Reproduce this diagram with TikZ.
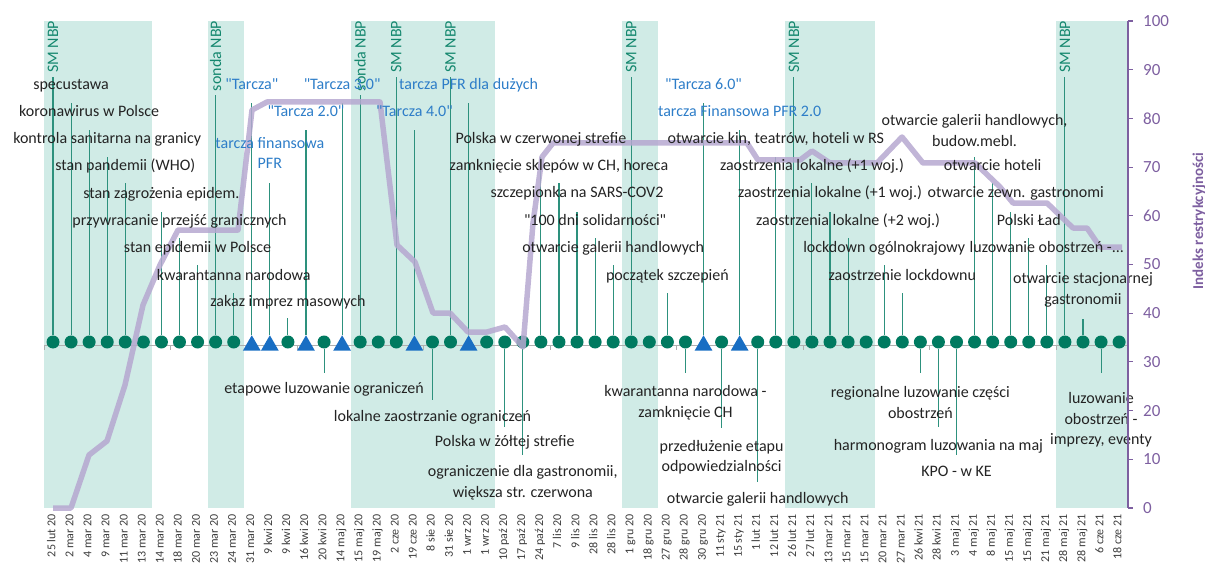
\documentclass[tikz,border=0pt]{standalone}
\usepackage{fontspec}
\setmainfont{Carlito}
\usetikzlibrary{shapes.geometric}
\definecolor{band}{RGB}{208,235,230}
\definecolor{tealc}{RGB}{20,135,110}
\definecolor{stemc}{RGB}{45,145,125}
\definecolor{markc}{RGB}{0,122,96}
\definecolor{tribl}{RGB}{25,110,195}
\definecolor{bluet}{RGB}{45,125,200}
\definecolor{idx}{RGB}{182,168,208}
\definecolor{axp}{RGB}{125,95,160}
\definecolor{txt}{RGB}{35,35,35}
\definecolor{datec}{RGB}{60,60,60}
\definecolor{gax}{RGB}{175,175,175}
\newcommand\qq{\XeTeXglyph\XeTeXcharglyph"22\relax}
\pgfdeclarelayer{bg}
\pgfdeclarelayer{mid}
\pgfdeclarelayer{mark}
\pgfdeclarelayer{idxl}
\pgfsetlayers{bg,mid,mark,idxl,main}
\tikzset{
  mlbl/.style={text=txt, inner sep=0pt, align=center, font=\fontsize{16}{20.5}\selectfont},
  lbl/.style={mlbl, text height=11pt, text depth=3.5pt},
  blbl/.style={lbl, text=bluet},
  bmlbl/.style={mlbl, text=bluet},
  rlbl/.style={rotate=90, anchor=east, text=tealc, inner sep=0pt, outer xsep=4pt, font=\fontsize{16}{19}\selectfont},
  stemln/.style={draw=stemc, line width=1.1pt},
  mdot/.style={circle, fill=markc, minimum size=13pt, inner sep=0pt},
  mtri/.style={regular polygon, regular polygon sides=3, fill=tribl, minimum size=20.5pt, inner sep=0pt},
  datel/.style={rotate=90, anchor=east, text=datec, inner sep=0pt, text height=9pt, text depth=2.5pt, font=\fontsize{12}{14}\selectfont},
  idxline/.style={draw=idx, line width=5.5pt, line join=round, opacity=0.85},
  axnum/.style={anchor=west, text=axp, inner sep=0pt, font=\fontsize{17}{20}\selectfont}
}
\newcommand\evt[5][lbl]{%
  \node[#1] (l#2) at (m#2 |- 0,#3) {#5};
  \coordinate (t#2) at (m#2 |- 0,#4);
  \begin{pgfonlayer}{mid}\draw[stemln] (m#2) -- (t#2);\end{pgfonlayer}}
\newcommand\evr[3]{%
  \node[rlbl] (l#1) at (m#1 |- 0,#2) {#3};
  \begin{pgfonlayer}{mid}\draw[stemln] (m#1) -- (l#1.west);\end{pgfonlayer}}
\begin{document}
\begin{tikzpicture}[x=1pt,y=-1pt]
\useasboundingbox (0,0) rectangle (1205,567);
% bands
\begin{pgfonlayer}{bg}
\fill[band] (44,21) rectangle (152.2,508);
\fill[band] (207.6,21) rectangle (243.7,508);
\fill[band] (351,21) rectangle (495.4,508);
\fill[band] (622,21) rectangle (658.3,508);
\fill[band] (785,21) rectangle (875,508);
\fill[band] (1056,21) rectangle (1128,508);
% time axis
\draw[gax, line width=1pt] (44,345) -- (1128,345);
\foreach \k in {0,...,8} \draw[gax, line width=1pt] ({44+\k*126.5},345) -- ++(0,5);
\end{pgfonlayer}
% markers
\begin{pgfonlayer}{mark}
\foreach \i in {1,...,11,14,16,18,19,20,22,23,25,26,...,36,38,40,41,...,60}
  \node[mdot] (m\i) at ({53+(\i-1)*18.07},342) {};
\foreach \i in {12,13,15,17,21,24,37,39}
  \node[mtri] (m\i) at ({53+(\i-1)*18.07},345.5) {};
\end{pgfonlayer}
% dates
\foreach \d [count=\i] in {25 lut 20, 2 mar 20, 4 mar 20, 9 mar 20, 11 mar 20, 13 mar 20, 14 mar 20, 18 mar 20, 20 mar 20, 23 mar 20, 24 mar 20, 31 mar 20, 9 kwi 20, 9 kwi 20, 16 kwi 20, 20 kwi 20, 14 maj 20, 15 maj 20, 19 maj 20, 2 cze 20, 19 cze 20, 8 sie 20, 31 sie 20, 1 wrz 20, 1 wrz 20, 10 paź 20, 17 paź 20, 24 paź 20, 7 lis 20, 9 lis 20, 28 lis 20, 28 lis 20, 1 gru 20, 18 gru 20, 27 gru 20, 28 gru 20, 30 gru 20, 11 sty 21, 15 sty 21, 1 lut 21, 12 lut 21, 26 lut 21, 27 lut 21, 13 mar 21, 15 mar 21, 15 mar 21, 20 mar 21, 27 mar 21, 26 kwi 21, 28 kwi 21, 3 maj 21, 4 maj 21, 8 maj 21, 15 maj 21, 15 maj 21, 21 maj 21, 28 maj 21, 28 maj 21, 6 cze 21, 18 cze 21}
  \node[datel] (d\i) at ({52+(\i-1)*18.07},514) {\d};
% rotated NBP labels
\evr{1}{17}{SM NBP}
\evr{10}{17}{sonda NBP}
\evr{18}{17}{sonda NBP}
\evr{20}{17}{SM NBP}
\evr{23}{17}{SM NBP}
\evr{33}{17}{SM NBP}
\evr{42}{17}{SM NBP}
\evr{57}{17}{SM NBP}
% upward events
\evt{2}{86}{103}{specustawa}
\evt{3}{113}{130}{koronawirus w Polsce}
\evt{4}{140}{157}{kontrola sanitarna na granicy}
\evt{5}{167}{183}{stan pandemii (WHO)}
\evt{7}{195}{212}{stan zagrożenia epidem.}
\evt{8}{222}{238}{przywracanie przejść granicznych}
\evt{9}{249}{265}{stan epidemii w Polsce}
\evt{11}{277}{293}{kwarantanna narodowa}
\evt[blbl]{12}{86}{103}{\qq Tarcza\qq}
\evt[bmlbl]{13}{153}{183}{tarcza finansowa\\PFR}
\evt{14}{303}{318}{zakaz imprez masowych}
\evt[blbl]{15}{113}{130}{\qq Tarcza 2.0\qq}
\evt[blbl]{17}{86}{103}{\qq Tarcza 3.0\qq}
\evt[blbl]{21}{113}{130}{\qq Tarcza 4.0\qq}
\evt[blbl]{24}{86}{103}{tarcza PFR dla dużych}
\evt{28}{140}{157}{Polska w czerwonej strefie}
\evt{29}{167}{183}{zamknięcie sklepów w CH, horeca}
\evt{30}{194}{212}{szczepionka na SARS-COV2}
\evt{31}{222}{238}{\qq 100 dni solidarności\qq}
\evt{32}{249}{265}{otwarcie galerii handlowych}
\evt{35}{277}{293}{początek szczepień}
\evt[blbl]{37}{86}{103}{\qq Tarcza 6.0\qq}
\evt[blbl]{39}{113}{130}{tarcza Finansowa PFR 2.0}
\evt{41}{140}{157}{otwarcie kin, teatrów, hoteli w RS}
\evt{43}{167}{183}{zaostrzenia lokalne (+1 woj.)}
\evt{44}{194}{212}{zaostrzenia lokalne (+1 woj.)}
\evt{45}{222}{238}{zaostrzenia lokalne (+2 woj.)}
\evt{47}{249}{265}{lockdown ogólnokrajowy}
\evt{48}{277}{293}{zaostrzenie lockdownu}
\evt[mlbl]{52}{130.5}{157}{otwarcie galerii handlowych,\\budow.mebl.}
\evt{53}{167}{183}{otwarcie hoteli}
\evt[lbl,xshift=5pt]{54}{194}{212}{otwarcie zewn. gastronomi}
\evt{55}{222}{238}{Polski Ład}
\evt{56}{249}{265}{luzowanie obostrzeń -...}
\evt[mlbl]{58}{290}{319}{otwarcie stacjonarnej\\gastronomii}
% downward events
\evt{16}{390}{373}{etapowe luzowanie ograniczeń}
\evt{22}{418}{400}{lokalne zaostrzanie ograniczeń}
\evt{26}{443}{427}{Polska w żółtej strefie}
\evt[mlbl]{27}{482.5}{455}{ograniczenie dla gastronomii,\\większa str. czerwona}
\evt[mlbl]{36}{402.5}{373}{kwarantanna narodowa -\\zamknięcie CH}
\evt[mlbl]{38}{457}{428}{przedłużenie etapu\\odpowiedzialności}
\evt{40}{500}{482}{otwarcie galerii handlowych}
\evt[mlbl]{49}{402.5}{373}{regionalne luzowanie części\\obostrzeń}
\evt{50}{447}{427}{harmonogram luzowania na maj}
\evt{51}{473}{455}{KPO - w KE}
\evt[mlbl]{59}{420}{373}{luzowanie\\obostrzeń -\\imprezy, eventy}
% restriction index line
\begin{pgfonlayer}{idxl}
\draw[idxline] (53,508) -- (71,508) -- (89,455) -- (107,441) -- (125,385) -- (143,305) -- (160,265) -- (178,230) -- (238,230) -- (252,110) -- (267,102) -- (380,102) -- (397,245) -- (415,262) -- (433,313) -- (450,313) -- (468,332) -- (487,332) -- (505,327) -- (523,347) -- (533,223) -- (542,157) -- (553,143) -- (747,143) -- (758,160) -- (800,160) -- (812,151) -- (830,163) -- (877,163) -- (902,137) -- (923,163) -- (975,163) -- (1000,187) -- (1013,203) -- (1047,203) -- (1073,228) -- (1087,228) -- (1100,247) -- (1122,247);
\end{pgfonlayer}
% right axis
\draw[axp, line width=1.3pt] (1128,21) -- (1128,508);
\foreach \v in {0,10,...,100} {
  \draw[axp, line width=1.1pt] (1128,{508-\v*4.87}) -- ++(5,0);
  \node[axnum] (y\v) at (1143,{508-\v*4.87}) {\v};
}
\node[rotate=90, text=axp, inner sep=0pt, font=\bfseries\fontsize{15}{18}\selectfont] (axt) at (1199,221) {Indeks restrykcyjności};
\end{tikzpicture}
\end{document}
